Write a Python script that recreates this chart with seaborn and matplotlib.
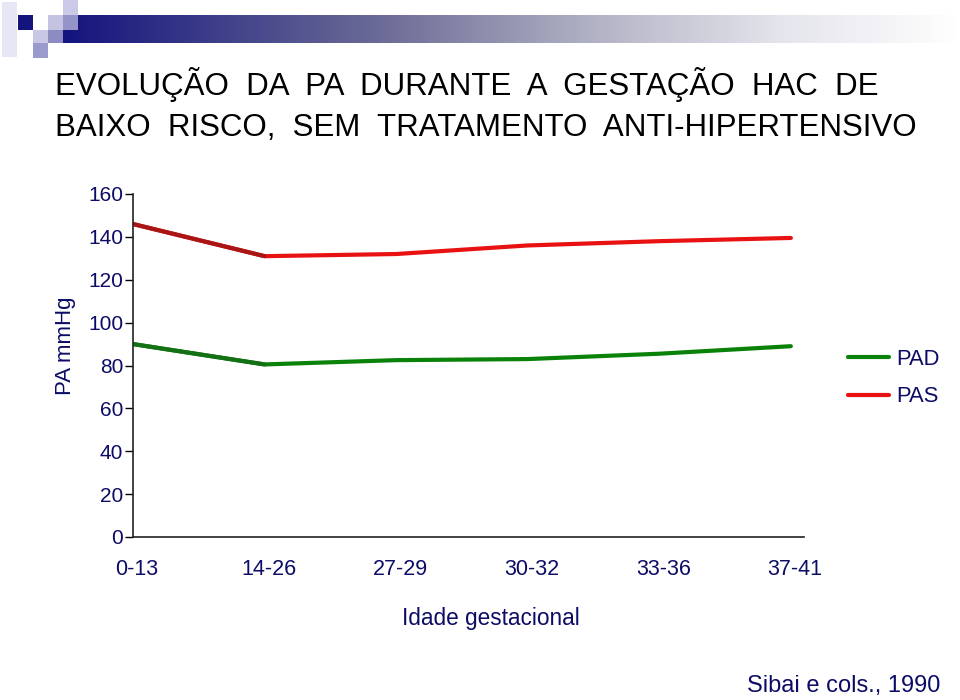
import numpy as np
import pandas as pd
import matplotlib
matplotlib.use("Agg")
import matplotlib.pyplot as plt
import matplotlib.transforms as mtransforms
from matplotlib.colors import LinearSegmentedColormap
from matplotlib.patches import Rectangle
from matplotlib.lines import Line2D
import seaborn as sns

# ---- data ----
categories = ["0-13", "14-26", "27-29", "30-32", "33-36", "37-41"]
pad = [90, 80.5, 82.5, 83, 85.5, 89]
pas = [146, 131, 132, 136, 138, 139.5]
series_names = ["PAD", "PAS"]
y_ticks = [0, 20, 40, 60, 80, 100, 120, 140, 160]

title_lines = ["EVOLUÇÃO  DA  PA  DURANTE  A  GESTAÇÃO  HAC  DE",
               "BAIXO  RISCO,  SEM  TRATAMENTO  ANTI-HIPERTENSIVO"]
x_label = "Idade gestacional"
y_label = "PA mmHg"
source = "Sibai e cols., 1990"

NAVY = "#0c0c66"
GREEN = "#0a820a"
RED = "#e81212"

sns.set_theme(style="white")
plt.rcParams["font.family"] = ["Liberation Sans", "DejaVu Sans"]

df = pd.DataFrame({
    "x": list(range(len(categories))) * 2,
    "valor": pad + pas,
    "serie": [series_names[0]] * len(pad) + [series_names[1]] * len(pas),
})

fig = plt.figure(figsize=(9.6, 7.0), dpi=100)
W, H = 960, 700

# ---- decorative header ----
deco = fig.add_axes([0, 0, 1, 1], zorder=0)
deco.set_xlim(0, W)
deco.set_ylim(H, 0)
deco.axis("off")
cmap = LinearSegmentedColormap.from_list(
    "bar", [(0, "#14147e"), (0.35, "#6a6a96"), (0.6, "#b4b4c6"), (0.8, "#e4e4ec"), (1, "#ffffff")])
grad = np.linspace(0, 1, 256).reshape(1, -1)
deco.imshow(grad, cmap=cmap, extent=[62, 960, 43, 15], aspect="auto", zorder=1)
squares = [
    (2, 2, 15, 55, "#e6e6f4"),
    (18, 15, 15, 15, "#14147e"),
    (33, 30, 15, 13, "#c8c8e6"),
    (33, 43, 15, 15, "#9a9acc"),
    (48, 15, 15, 15, "#c4c4e2"),
    (48, 30, 15, 13, "#8c8cc2"),
    (63, 0, 15, 15, "#cacae8"),
    (63, 15, 15, 15, "#9494c8"),
]
for x0, y0, w, h, c in squares:
    deco.add_patch(Rectangle((x0, y0), w, h, facecolor=c, edgecolor="none", zorder=2))

# ---- main axes ----
left, right, bottom, top = 133, 804, 537, 194
ax = fig.add_axes([left / W, (H - bottom) / H, (right - left) / W, (bottom - top) / H], zorder=2)
ax.patch.set_alpha(0)

sns.lineplot(data=df, x="x", y="valor", hue="serie",
             palette={series_names[0]: GREEN, series_names[1]: RED},
             linewidth=3.0, ax=ax, legend=False)
# darker first segment (shading seen in reference)
first = df[df["x"] <= 1]
sns.lineplot(data=first, x="x", y="valor", hue="serie",
             palette={series_names[0]: "#147014", series_names[1]: "#aa1616"},
             linewidth=3.0, ax=ax, legend=False)

ax.set_xlim(0, 5.1)
ax.set_ylim(0, 160)
ax.set_yticks(y_ticks)
ax.set_yticklabels([str(v) for v in y_ticks], color=NAVY, fontsize=15)
ax.set_xticks(range(len(categories)))
ax.set_xticklabels(categories, color=NAVY, fontsize=15.5)
ax.tick_params(axis="y", length=6, width=1, color="black", pad=1, direction="out", left=True)
ax.tick_params(axis="x", length=0, pad=16)
shift = mtransforms.ScaledTranslation(4 / 100, 0, fig.dpi_scale_trans)
for lab in ax.get_xticklabels():
    lab.set_transform(lab.get_transform() + shift)
for s in ["top", "right"]:
    ax.spines[s].set_visible(False)
for s in ["left", "bottom"]:
    ax.spines[s].set_color("#222222")
    ax.spines[s].set_linewidth(1.2)
ax.set_xlabel("")
ax.set_ylabel("")
ax.grid(False)

# legend
handles = [Line2D([], [], color=GREEN, lw=3), Line2D([], [], color=RED, lw=3)]
leg = fig.legend(handles, series_names, loc="center left",
                 bbox_to_anchor=(828 / W, 1 - 378 / H), frameon=False,
                 fontsize=15.8, handlelength=1.9, handletextpad=0.3, labelspacing=0.75)
for t in leg.get_texts():
    t.set_color(NAVY)

# texts
fig.text(55 / W, 1 - 95 / H, title_lines[0], fontsize=22.5, color="black", va="baseline", ha="left")
fig.text(55 / W, 1 - 136 / H, title_lines[1], fontsize=22.5, color="black", va="baseline", ha="left")
fig.text(65 / W, 1 - 346 / H, y_label, fontsize=16, color=NAVY, rotation=90, va="center", ha="center")
fig.text(491 / W, 1 - 619 / H, x_label, fontsize=16.3, color=NAVY, va="center", ha="center")
fig.text(940 / W, 1 - 686 / H, source, fontsize=17, color=NAVY, va="center", ha="right")

fig.savefig("out.png", dpi=100)
